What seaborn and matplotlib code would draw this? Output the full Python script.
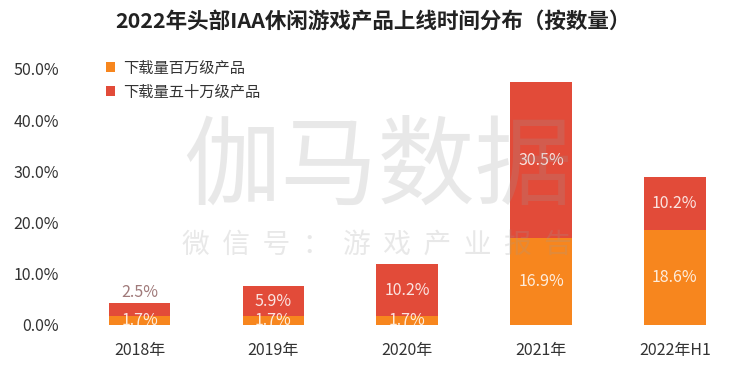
import matplotlib
matplotlib.use("Agg")
import matplotlib.pyplot as plt
import seaborn as sns
import pandas as pd
from matplotlib.patches import Patch

categories = ["2018年", "2019年", "2020年", "2021年", "2022年H1"]
million = [1.7, 1.7, 1.7, 16.9, 18.6]
half_million = [2.5, 5.9, 10.2, 30.5, 10.2]
yticks = [0, 10, 20, 30, 40, 50]
series_names = ["下载量百万级产品", "下载量五十万级产品"]
title = "2022年头部IAA休闲游戏产品上线时间分布（按数量）"
watermark_big = "伽马数据"
watermark_small = "微信号：游戏产业报告"

sns.set_theme(style="white")
plt.rcParams["font.family"] = ["Noto Sans CJK SC", "DejaVu Sans"]

ORANGE = "#F7861E"
RED = "#E24B39"

df = pd.DataFrame({"cat": categories, "m": million, "h": half_million})
df["total"] = df["m"] + df["h"]

fig = plt.figure(figsize=(7.5, 3.68), dpi=100)
ax = fig.add_axes([0.097, 0.117, 0.892, 0.696])

sns.barplot(data=df, x="cat", y="total", color=RED, saturation=1, width=0.46, ax=ax, linewidth=0)
sns.barplot(data=df, x="cat", y="m", color=ORANGE, saturation=1, width=0.46, ax=ax, linewidth=0)

ax.set_ylim(0, 50)
ax.set_xlim(-0.5, 4.5)
ax.set_yticks(yticks)
ax.set_yticklabels([f"{v:.1f}%" for v in yticks], fontsize=11.5, color="#333333",
                   fontweight="light")
for t in ax.get_xticklabels():
    t.set_fontweight("light")
ax.tick_params(axis="x", labelsize=11.5, colors="#333333", length=0, pad=12)
ax.tick_params(axis="y", length=0, pad=10)
ax.set_xlabel("")
ax.set_ylabel("")
for s in ax.spines.values():
    s.set_visible(False)

for i, (m, h) in enumerate(zip(million, half_million)):
    ax.text(i, m / 2, f"{m}%", ha="center", va="center", fontsize=11.5,
            color="white", alpha=0.85, fontweight="light")
    if h < 4:
        ax.text(i, m + h + 0.4, f"{h}%", ha="center", va="bottom", fontsize=11.5,
                color="#A07a7a", fontweight="light")
    else:
        ax.text(i, m + h / 2, f"{h}%", ha="center", va="center", fontsize=11.5,
                color="white", alpha=0.85, fontweight="light")

fig.text(0.497, 0.942, title, ha="center", va="center", fontsize=15.5,
         fontweight="bold", color="#222222")

handles = [Patch(facecolor=ORANGE, edgecolor="none"), Patch(facecolor=RED, edgecolor="none")]
leg = fig.legend(handles, series_names, loc="upper left", bbox_to_anchor=(0.133, 0.855),
                 frameon=False, fontsize=11, handlelength=0.6, handleheight=0.6,
                 handletextpad=0.5, labelspacing=0.45, borderaxespad=0)
for t in leg.get_texts():
    t.set_color("#333333")
    t.set_fontweight("light")

fig.text(0.503, 0.54, watermark_big, ha="center", va="center", fontsize=70,
         color="#9a9a9a", alpha=0.22, zorder=10, fontweight="light")
fig.text(0.503, 0.335, "  ".join(watermark_small), ha="center", va="center", fontsize=20,
         color="#9a9a9a", alpha=0.22, zorder=10, fontweight="light")

fig.savefig("out.png", dpi=100, facecolor="white")
